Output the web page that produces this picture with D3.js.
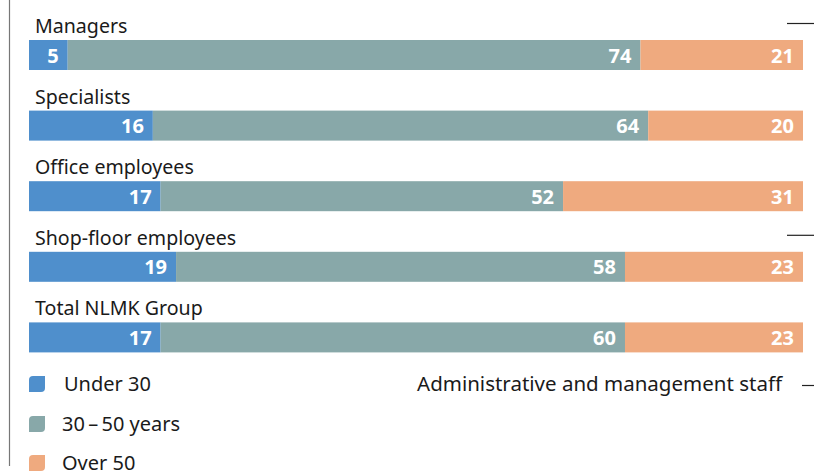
<!DOCTYPE html>
<html>
<head>
<meta charset="utf-8">
<script src="https://cdn.jsdelivr.net/npm/d3@7"></script>
<style>
  body { margin: 0; background: #fff; }
  svg { display: block; font-family: "Noto Sans", sans-serif; }
</style>
</head>
<body>
<svg id="chart" width="814" height="473"></svg>
<script>
const categories = ["Managers", "Specialists", "Office employees", "Shop-floor employees", "Total NLMK Group"];
const seriesNames = ["Under 30", "30\u2009–\u200950 years", "Over 50"];
const under30 = [5, 16, 17, 19, 17];
const mid = [74, 64, 52, 58, 60];
const over50 = [21, 20, 31, 23, 23];
const colors = ["#4f8fcc", "#88a8a9", "#efaa7f"];

const width = 814, height = 473;
const svg = d3.select("#chart");

const rows = categories.map((c, i) => ({ cat: c, Under30: under30[i], Mid: mid[i], Over50: over50[i] }));
const keys = ["Under30", "Mid", "Over50"];
const stacked = d3.stack().keys(keys)(rows);

const x = d3.scaleLinear().domain([0, 100]).range([29, 803]);
// each row: label band + bar
const y = d3.scaleBand().domain(categories).range([17, 370]).paddingInner(0).paddingOuter(0);
const barTop = d => y(d) + 23;
const barH = 30;

// left rule
svg.append("line")
    .attr("x1", 9.5).attr("x2", 9.5)
    .attr("y1", 0).attr("y2", 466)
    .attr("stroke", "#777").attr("stroke-width", 1.2);

// right tick marks
svg.selectAll(".rtick")
    .data(["Managers", "Shop-floor employees"])
    .join("line")
    .attr("x1", 787).attr("x2", 814)
    .attr("y1", d => y(d) + 6.5).attr("y2", d => y(d) + 6.5)
    .attr("stroke", "#222").attr("stroke-width", 1.2);

// category labels
svg.selectAll(".cat")
    .data(categories)
    .join("text")
    .attr("x", 35)
    .attr("y", d => y(d) + 16)
    .attr("font-size", 19.6)
    .attr("fill", "#1a1a1a")
    .text(d => d);

// bars
const groups = svg.selectAll(".series")
    .data(stacked)
    .join("g")
    .attr("fill", (d, i) => colors[i]);

groups.selectAll("rect")
    .data(d => d)
    .join("rect")
    .attr("x", d => x(d[0]))
    .attr("y", d => barTop(d.data.cat))
    .attr("width", d => x(d[1]) - x(d[0]))
    .attr("height", barH);

// value labels
groups.selectAll(".val")
    .data(d => d.map(v => ({ v, key: d.key })))
    .join("text")
    .attr("x", d => x(d.v[1]) - 9)
    .attr("y", d => barTop(d.v.data.cat) + 22.5)
    .attr("text-anchor", "end")
    .attr("font-size", 20)
    .attr("font-weight", "bold")
    .attr("fill", "#fff")
    .text(d => d.v.data[d.key]);

// legend
const legendY = [384, 424, 463];
const leaf = "M4,0 H16 V12 Q16,16 12,16 H0 V4 Q0,0 4,0 Z";
const lg = svg.selectAll(".lg")
    .data(seriesNames)
    .join("g")
    .attr("transform", (d, i) => `translate(29,${legendY[i] - 8})`);
lg.append("path").attr("d", leaf).attr("fill", (d, i) => colors[i]);
lg.append("text")
    .attr("x", (d, i) => i === 0 ? 35 : 33)
    .attr("y", 15)
    .attr("font-size", 20)
    .attr("fill", "#1a1a1a")
    .text(d => d);

svg.append("text")
    .attr("x", 782).attr("y", 391)
    .attr("text-anchor", "end")
    .attr("font-size", 20.5)
    .attr("fill", "#1a1a1a")
    .text("Administrative and management staff");
svg.append("line")
    .attr("x1", 802).attr("x2", 814)
    .attr("y1", 385.5).attr("y2", 385.5)
    .attr("stroke", "#222").attr("stroke-width", 1.2);
</script>
</body>
</html>
